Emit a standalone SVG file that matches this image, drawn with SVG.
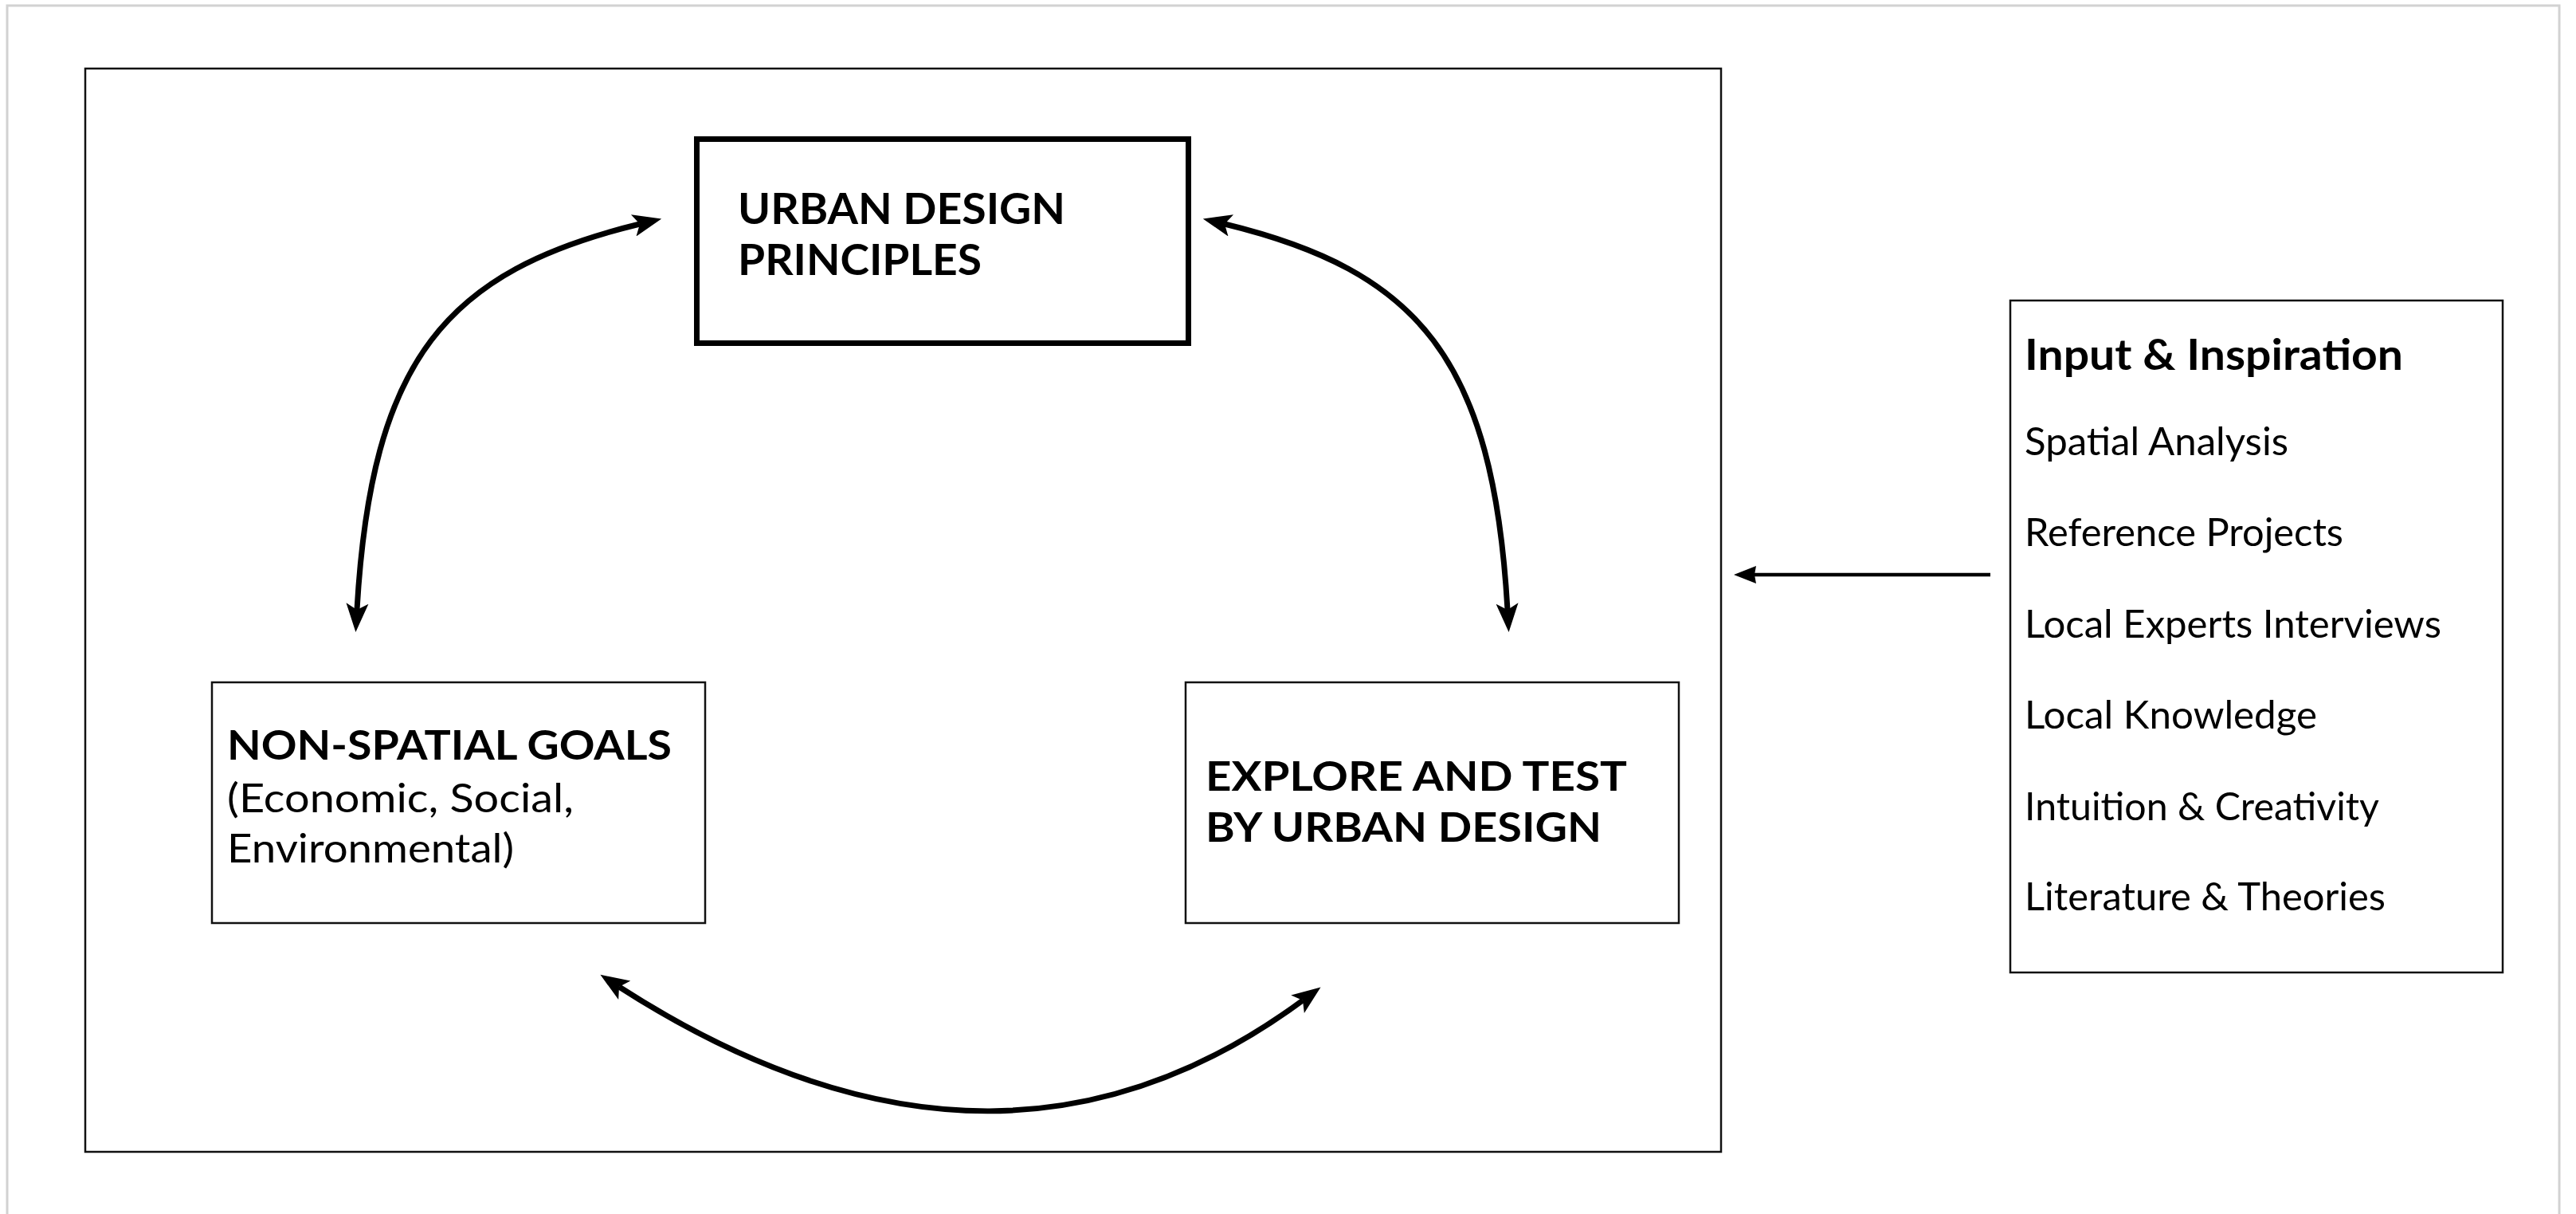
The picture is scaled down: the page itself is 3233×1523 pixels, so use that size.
<svg xmlns="http://www.w3.org/2000/svg" width="3233" height="1523" viewBox="0 0 3233 1523">
  <style>
    .box { fill: #ffffff; stroke: #111111; stroke-width: 2.5; }
    .thick { fill: #ffffff; stroke: #000000; stroke-width: 7; }
    .bold { font-family: Lato, "Noto Sans", sans-serif; font-weight: 700; fill: #000000; }
    .reg { font-family: Lato, "Noto Sans", sans-serif; font-weight: 400; fill: #000000; }
    .arc { fill: none; stroke: #000000; stroke-width: 7; stroke-linecap: butt; }
  </style>
  <defs>
    <marker id="barb" markerUnits="userSpaceOnUse" markerWidth="40" markerHeight="32" viewBox="0 0 40 32" refX="8" refY="16" orient="auto-start-reverse">
      <path d="M36,16 L0,2 L8,16 L0,30 Z" fill="#000000"/>
    </marker>
  </defs>
  <rect x="0" y="0" width="3233" height="1523" fill="#ffffff"/>
  <rect x="9" y="7" width="3203" height="1600" fill="none" stroke="#d2d2d2" stroke-width="3"/>

  <g id="main-frame">
    <rect class="box" x="107" y="86" width="2053" height="1359"/>
  </g>

  <g id="node-urban-design-principles">
    <rect class="thick" x="874.5" y="174.5" width="617" height="256"/>
    <text class="bold" font-size="53" x="926" y="281" textLength="411" lengthAdjust="spacingAndGlyphs">URBAN DESIGN</text>
    <text class="bold" font-size="53" x="926" y="345" textLength="306" lengthAdjust="spacingAndGlyphs">PRINCIPLES</text>
  </g>

  <g id="node-non-spatial-goals">
    <rect class="box" x="266" y="856" width="619" height="302"/>
    <text class="bold" font-size="51" x="285" y="953" textLength="558" lengthAdjust="spacingAndGlyphs">NON-SPATIAL GOALS</text>
    <text class="reg" font-size="51" x="285" y="1019" textLength="435" lengthAdjust="spacingAndGlyphs">(Economic, Social,</text>
    <text class="reg" font-size="51" x="285" y="1082" textLength="360" lengthAdjust="spacingAndGlyphs">Environmental)</text>
  </g>

  <g id="node-explore-and-test">
    <rect class="box" x="1488" y="856" width="619" height="302"/>
    <text class="bold" font-size="52" x="1513" y="992" textLength="529" lengthAdjust="spacingAndGlyphs">EXPLORE AND TEST</text>
    <text class="bold" font-size="52" x="1513" y="1056" textLength="497" lengthAdjust="spacingAndGlyphs">BY URBAN DESIGN</text>
  </g>

  <g id="node-input-inspiration">
    <rect class="box" x="2523" y="377" width="618" height="843"/>
    <text class="bold" font-size="53" x="2541" y="464" textLength="475" lengthAdjust="spacingAndGlyphs">Input &amp; Inspiration</text>
    <text class="reg" font-size="48" x="2541" y="571" textLength="331" lengthAdjust="spacingAndGlyphs">Spatial Analysis</text>
    <text class="reg" font-size="48" x="2541" y="685" textLength="400" lengthAdjust="spacingAndGlyphs">Reference Projects</text>
    <text class="reg" font-size="48" x="2541" y="800" textLength="523" lengthAdjust="spacingAndGlyphs">Local Experts Interviews</text>
    <text class="reg" font-size="48" x="2541" y="914" textLength="367" lengthAdjust="spacingAndGlyphs">Local Knowledge</text>
    <text class="reg" font-size="48" x="2541" y="1029" textLength="445" lengthAdjust="spacingAndGlyphs">Intuition &amp; Creativity</text>
    <text class="reg" font-size="48" x="2541" y="1142" textLength="453" lengthAdjust="spacingAndGlyphs">Literature &amp; Theories</text>
  </g>

  <g id="connectors">
    <path class="arc" d="M448,765 C466,450 560,340 803,281" marker-start="url(#barb)" marker-end="url(#barb)"/>
    <path class="arc" d="M1892,765 C1874,450 1780,340 1537,281" marker-start="url(#barb)" marker-end="url(#barb)"/>
    <path class="arc" d="M777,1238 C1113,1454 1395,1432 1635,1255" marker-start="url(#barb)" marker-end="url(#barb)"/>
    <line x1="2498" y1="721" x2="2200" y2="721" stroke="#000000" stroke-width="4.5"/>
    <path d="M2176,721 L2204,710 L2202,721 L2204,732 Z" fill="#000000"/>
  </g>
</svg>
